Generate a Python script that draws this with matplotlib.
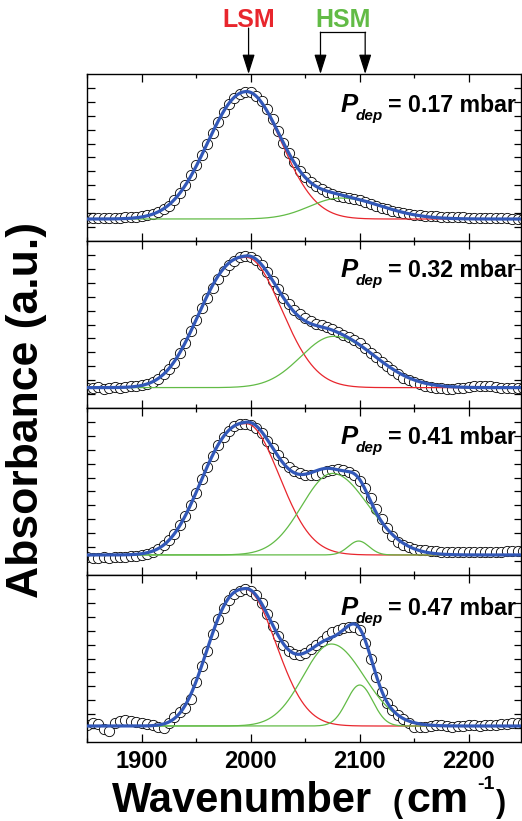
import numpy as np
import matplotlib
matplotlib.use('Agg')
import matplotlib.pyplot as plt
from matplotlib.ticker import MultipleLocator, FixedLocator

plt.rcParams['font.family'] = ['Liberation Sans', 'DejaVu Sans']
plt.rcParams['font.weight'] = 'bold'

# measured spectra, sampled every 5 cm-1 from 1850 to 2250
wavenumber = np.arange(1850, 2251, 5)

absorbance_017 = [
    0.005, 0.006, 0.007, 0.008, 0.009, 0.010, 0.011, 0.012, 0.014, 0.017,
    0.021, 0.028, 0.038, 0.055, 0.077, 0.105, 0.147, 0.200, 0.265, 0.340,
    0.420, 0.500, 0.585, 0.670, 0.755, 0.830, 0.895, 0.940, 0.975, 0.990,
    0.985, 0.960, 0.920, 0.855, 0.775, 0.685, 0.595, 0.510, 0.440, 0.375,
    0.325, 0.285, 0.255, 0.230, 0.210, 0.195, 0.182, 0.172, 0.163, 0.155,
    0.146, 0.132, 0.117, 0.102, 0.089, 0.077, 0.066, 0.056, 0.048, 0.041,
    0.035, 0.031, 0.027, 0.024, 0.021, 0.019, 0.017, 0.015, 0.013, 0.012,
    0.011, 0.010, 0.009, 0.008, 0.007, 0.006, 0.005, 0.005, 0.004, 0.003,
    0.003]

absorbance_032 = [
    0.000, -0.005, 0.005, -0.010, 0.000, 0.005, 0.000, 0.005, 0.010, 0.015,
    0.020, 0.025, 0.040, 0.065, 0.100, 0.140, 0.190, 0.260, 0.340, 0.430,
    0.515, 0.600, 0.680, 0.750, 0.820, 0.880, 0.925, 0.960, 0.985, 0.995,
    0.990, 0.965, 0.930, 0.875, 0.810, 0.745, 0.680, 0.630, 0.590, 0.555,
    0.530, 0.505, 0.485, 0.470, 0.455, 0.440, 0.420, 0.400, 0.385, 0.360,
    0.335, 0.300, 0.265, 0.230, 0.195, 0.160, 0.130, 0.100, 0.075, 0.055,
    0.040, 0.025, 0.015, 0.005, 0.000, -0.005, -0.010, -0.010, -0.005, 0.000,
    0.005, 0.010, 0.015, 0.015, 0.010, 0.005, 0.000, 0.000, 0.000, 0.000,
    0.000]

absorbance_041 = [
    -0.015, -0.020, -0.020, -0.018, -0.020, -0.015, -0.018, -0.015, -0.010, -0.005,
    0.000, 0.010, 0.025, 0.045, 0.075, 0.112, 0.160, 0.225, 0.295, 0.380,
    0.470, 0.570, 0.660, 0.745, 0.830, 0.890, 0.935, 0.970, 0.985, 0.990,
    0.980, 0.955, 0.920, 0.860, 0.805, 0.750, 0.700, 0.665, 0.635, 0.615,
    0.605, 0.600, 0.605, 0.615, 0.630, 0.640, 0.645, 0.640, 0.625, 0.600,
    0.560, 0.505, 0.430, 0.350, 0.270, 0.200, 0.140, 0.100, 0.075, 0.060,
    0.048, 0.040, 0.035, 0.030, 0.028, 0.026, 0.025, 0.025, 0.024, 0.022,
    0.022, 0.024, 0.025, 0.026, 0.025, 0.024, 0.025, 0.027, 0.030, 0.032,
    0.032]

absorbance_047 = [
    0.010, 0.025, 0.015, -0.020, -0.035, 0.020, 0.040, 0.045, 0.035, 0.030,
    0.020, 0.015, 0.005, -0.010, -0.015, 0.020, 0.065, 0.100, 0.130, 0.200,
    0.320, 0.440, 0.550, 0.670, 0.780, 0.860, 0.920, 0.965, 0.990, 1.000,
    0.990, 0.960, 0.900, 0.820, 0.735, 0.655, 0.590, 0.550, 0.525, 0.520,
    0.535, 0.560, 0.590, 0.625, 0.655, 0.685, 0.705, 0.715, 0.725, 0.725,
    0.700, 0.610, 0.490, 0.360, 0.250, 0.170, 0.115, 0.080, 0.050, 0.020,
    -0.005, -0.010, -0.005, 0.000, 0.005, 0.005, 0.000, -0.005, 0.000, 0.000,
    0.005, 0.005, 0.000, 0.005, 0.010, 0.010, 0.015, 0.015, 0.020, 0.020,
    0.020]

pressures = ['0.17', '0.32', '0.41', '0.47']

# fitted LSM band (red): centre, height, widths on the low / high side
lsm_centre = [1996, 1996, 1996, 1995]
lsm_height = [0.99, 0.985, 0.99, 1.0]
lsm_width_low = [35.2, 41.5, 39.4, 33.1]
lsm_shape_low = [2.1, 2.5, 2.5, 2.6]
lsm_width_high = [32, 32, 30, 28]

# fitted HSM bands (green), one list per spectrum
hsm_centre = [[2082], [2076], [2075, 2099], [2074, 2100]]
hsm_height = [[0.163], [0.388], [0.615, 0.105], [0.60, 0.30]]
hsm_width_low = [[28], [30], [28, 9.5], [26, 12]]
hsm_width_high = [[38], [38], [33, 9.5], [30, 12]]

# arrow marks above the top panel
lsm_mark = 1998
hsm_marks = [2064, 2105]

RED = '#e8262d'
GREEN = '#62bb46'
BLUE = '#3258b8'


def band(x, centre, height, w_low, w_high, p_low=2.0):
    d = x - centre
    w = np.where(d < 0, w_low, w_high)
    p = np.where(d < 0, p_low, 2.0)
    return height * np.exp(-0.5 * np.abs(d / w) ** p)


W, H = 522, 821
fig = plt.figure(figsize=(W / 100, H / 100), dpi=100)

left_px, right_px = 87.3, 521.0
tops = [74, 241, 408, 575]
panel_h = 167
y_low = [-0.171, -0.154, -0.151, -0.117]
y_high = [1.128, 1.109, 1.108, 1.105]
label_y = [0.774, 0.783, 0.783, 0.762]

spectra = [absorbance_017, absorbance_032, absorbance_041, absorbance_047]
x_fit = np.linspace(1850, 2250, 801)

axes = []
for i in range(4):
    ax = fig.add_axes([left_px / W, (H - tops[i] - panel_h) / H,
                       (right_px - left_px) / W, panel_h / H])
    axes.append(ax)

    ax.plot(wavenumber, spectra[i], 'o', ms=7.4, mfc='white', mec='black',
            mew=0.6, zorder=2)

    lsm = band(x_fit, lsm_centre[i], lsm_height[i], lsm_width_low[i],
               lsm_width_high[i], lsm_shape_low[i])
    total = lsm.copy()
    ax.plot(x_fit, lsm, color=RED, lw=0.9, zorder=3)
    for c, h, wl, wh in zip(hsm_centre[i], hsm_height[i],
                            hsm_width_low[i], hsm_width_high[i]):
        g = band(x_fit, c, h, wl, wh)
        total += g
        ax.plot(x_fit, g, color=GREEN, lw=0.9, zorder=3)
    ax.plot(x_fit, total, color=BLUE, lw=2.3, zorder=4)

    ax.set_xlim(1850, 2248)
    ax.set_ylim(y_low[i], y_high[i])
    ax.xaxis.set_major_locator(MultipleLocator(100))
    ax.xaxis.set_minor_locator(MultipleLocator(50))
    ax.yaxis.set_major_locator(FixedLocator(np.linspace(y_low[i], y_high[i], 13)[1:-1]))
    ax.tick_params(axis='x', which='major', direction='in', top=True, bottom=True,
                   length=5.8, width=0.9, labelsize=17, pad=6)
    ax.tick_params(axis='x', which='minor', direction='in', top=True, bottom=True,
                   length=2.9, width=0.9)
    ax.tick_params(axis='y', which='major', direction='in', left=True, right=True,
                   length=5.4, width=0.9, labelleft=False)
    if i < 3:
        ax.tick_params(axis='x', labelbottom=False)
    for s in ax.spines.values():
        s.set_linewidth(1.0)

    yb = label_y[i]
    ax.text(0.583, yb, 'P', transform=ax.transAxes, style='italic', size=18.5,
            va='baseline', ha='left')
    ax.text(0.6175, yb - 0.048, 'dep', transform=ax.transAxes, style='italic',
            size=11, va='baseline', ha='left')
    ax.text(0.6935, yb, '= %s mbar' % pressures[i], transform=ax.transAxes,
            size=16.7, va='baseline', ha='left')

# LSM / HSM arrows above the top panel
top = axes[0]
trans = top.get_xaxis_transform()
arrow = dict(arrowstyle='-|>,head_length=1.2,head_width=0.38', mutation_scale=10,
             color='black', lw=0.9, shrinkA=0, shrinkB=0)
top.annotate('', xy=(lsm_mark, 1.0), xytext=(lsm_mark, 1.275), xycoords=trans,
             textcoords=trans, arrowprops=arrow, annotation_clip=False)
top.text(lsm_mark, 1.281, 'LSM', transform=trans, ha='center', va='baseline',
         color=RED, size=18)
for m in hsm_marks:
    top.annotate('', xy=(m, 1.0), xytext=(m, 1.25), xycoords=trans,
                 textcoords=trans, arrowprops=arrow, annotation_clip=False)
top.plot(hsm_marks, [1.25, 1.25], color='black', lw=0.9, transform=trans,
         clip_on=False)
top.text(np.mean(hsm_marks), 1.281, 'HSM', transform=trans, ha='center',
         va='baseline', color=GREEN, size=18)

# axis titles
fig.text(27.0 / W, 0.501, 'Absorbance (a.u.)', rotation=90, ha='center',
         va='center', size=32)
base = (H - 812) / H
fig.text(112 / W, base, 'Wavenumber', ha='left', va='baseline', size=30)
fig.text(393 / W, base, '(', ha='left', va='baseline', size=22)
fig.text(406 / W, base, 'cm', ha='left', va='baseline', size=31)
fig.text(477 / W, (H - 789) / H, '-1', ha='left', va='baseline', size=14)
fig.text(496 / W, base, ')', ha='left', va='baseline', size=22)

fig.savefig('out.png', dpi=100)
